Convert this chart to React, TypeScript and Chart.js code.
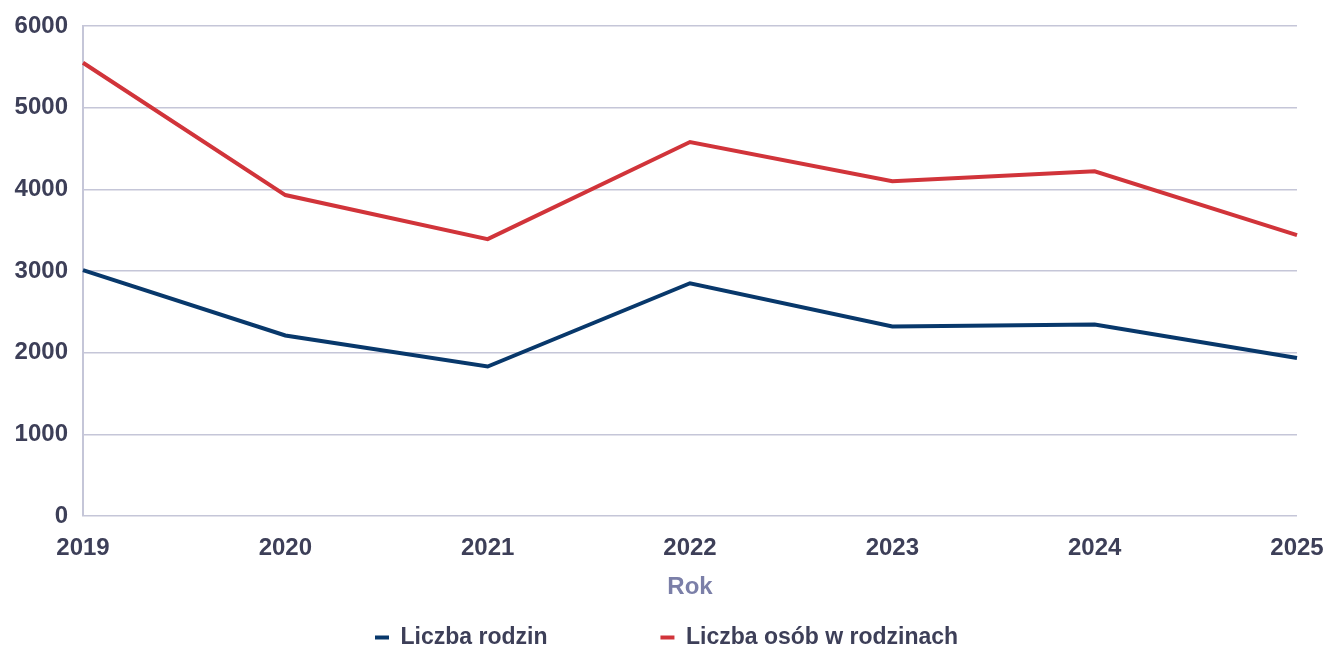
import React, { useEffect, useRef } from "react";
import { Chart, registerables } from "chart.js";

Chart.register(...registerables);

const years = ["2019", "2020", "2021", "2022", "2023", "2024", "2025"];
const familiesCount = [3010, 2210, 1830, 2850, 2320, 2345, 1935];
const peopleCount = [5550, 3930, 3390, 4580, 4100, 4220, 3440];
const seriesNames = ["Liczba rodzin", "Liczba osób w rodzinach"];
const axisTitle = "Rok";

const NAVY = "#08386b";
const RED = "#d1343a";
const GRID = "#c5c6d8";
const TICK = "#3d3f58";
const TITLE = "#7b7fa8";
const FONT = "'Liberation Sans', Arial, sans-serif";

const LEGEND_PAD = 113;
const LEGEND_ITEM_TOP = 626;
const LEGEND_START_X = 375;

const legendPlacer = {
  id: "legendPlacer",
  afterLayout(chart: any) {
    const lg = chart.legend;
    if (!lg) return;
    lg.top = LEGEND_ITEM_TOP - LEGEND_PAD;
    lg.bottom = chart.height;
    lg.left = LEGEND_START_X - LEGEND_PAD;
    lg.right = chart.width;
    lg.width = lg.right - lg.left;
    lg.height = lg.bottom - lg.top;
  },
};

export default function App() {
  const ref = useRef<HTMLCanvasElement | null>(null);

  useEffect(() => {
    if (!ref.current) return;
    const chart = new Chart(ref.current, {
      type: "line",
      data: {
        labels: years,
        datasets: [
          {
            label: seriesNames[0],
            data: familiesCount,
            borderColor: NAVY,
            backgroundColor: NAVY,
            borderWidth: 4,
            pointRadius: 0,
            tension: 0,
            fill: false,
          },
          {
            label: seriesNames[1],
            data: peopleCount,
            borderColor: RED,
            backgroundColor: RED,
            borderWidth: 4,
            pointRadius: 0,
            tension: 0,
            fill: false,
          },
        ],
      },
      options: {
        animation: false,
        responsive: true,
        maintainAspectRatio: false,
        layout: { padding: { top: 26, right: 33, left: 0, bottom: 0 } },
        plugins: {
          tooltip: { enabled: false },
          legend: {
            position: "bottom",
            align: "start",
            maxHeight: 30,
            labels: {
              padding: LEGEND_PAD,
              boxWidth: 14,
              boxHeight: 4,
              color: TICK,
              font: { family: FONT, size: 23, weight: "bold" },
              generateLabels: (c: any) =>
                Chart.defaults.plugins.legend.labels
                  .generateLabels(c)
                  .map((l: any) => ({ ...l, lineWidth: 0 })),
            },
          },
        },
        scales: {
          x: {
            grid: { display: false },
            border: { display: false },
            ticks: {
              color: TICK,
              padding: 10,
              maxRotation: 0,
              font: { family: FONT, size: 24, weight: "bold" },
            },
            title: {
              display: true,
              text: axisTitle,
              color: TITLE,
              padding: { top: 0, bottom: 16 },
              font: { family: FONT, size: 24, weight: "bold" },
            },
            afterFit: (s: any) => {
              s.height = 102;
              s.paddingLeft = 0;
              s.paddingRight = 0;
            },
          },
          y: {
            min: 0,
            max: 6000,
            grid: { color: GRID, lineWidth: 1.6, drawTicks: false },
            border: { display: true, color: GRID, width: 2 },
            ticks: {
              stepSize: 1000,
              color: TICK,
              padding: 15,
              font: { family: FONT, size: 24, weight: "bold" },
              callback: (v: any) => String(v),
            },
            afterFit: (s: any) => {
              s.width = 83;
              s.paddingTop = 0;
              s.paddingBottom = 0;
            },
          },
        },
      },
      plugins: [legendPlacer],
    });
    return () => chart.destroy();
  }, []);

  return (
    <div style={{ position: "absolute", left: 0, top: 0, width: 1330, height: 648 }}>
      <canvas ref={ref} />
    </div>
  );
}
